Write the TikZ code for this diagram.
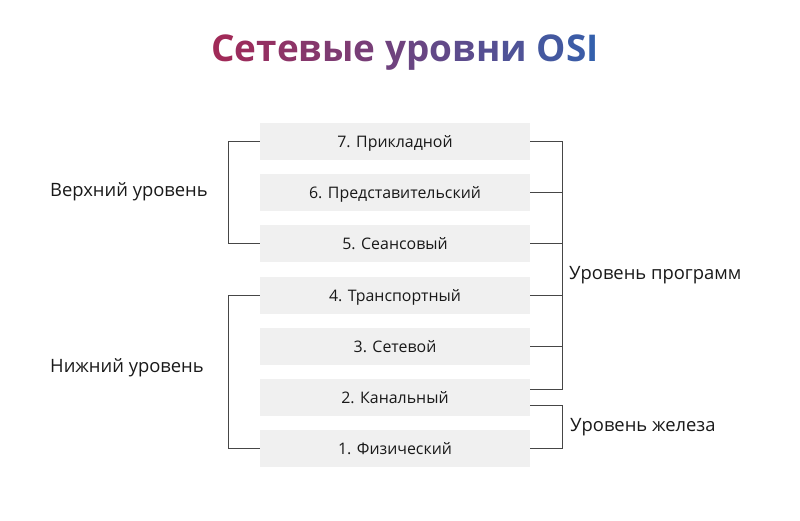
\documentclass[tikz,border=0pt]{standalone}
\usepackage{fontspec}
\setmainfont{Open Sans}
\definecolor{boxgray}{RGB}{240,240,240}
\definecolor{linegray}{RGB}{70,70,70}
\definecolor{textdark}{RGB}{25,25,25}
\definecolor{tA}{RGB}{160,42,88}
\definecolor{tB}{RGB}{52,96,172}
\newcommand{\gl}[2]{\textcolor{tB!#1!tA}{#2}}
\begin{document}
\begin{tikzpicture}[x=1pt,y=-1pt,
  layerbox/.style={fill=boxgray, draw=none, minimum width=270pt, minimum height=37pt, inner sep=0pt, text depth=0pt, text=textdark, font=\fontsize{15.9}{18}\selectfont},
  grp/.style={anchor=west, inner sep=0pt, text=textdark, font=\fontsize{18.4}{22}\selectfont},
  br/.style={draw=linegray, line width=1pt},
  ttl/.style={inner sep=0pt, font=\fontsize{36.9}{44}\selectfont\bfseries}]
\useasboundingbox (0,0) rectangle (800,520);
\node[ttl] (title) at (405,53) {\gl{0}{С}\gl{6}{е}\gl{12}{т}\gl{18}{е}\gl{24}{в}\gl{31}{ы}\gl{37}{е} \gl{45}{у}\gl{51}{р}\gl{57}{о}\gl{63}{в}\gl{69}{н}\gl{75}{и} \gl{85}{O}\gl{93}{S}\gl{100}{I}};
\node[layerbox] (L7) at (395,141) {7. Прикладной};
\node[layerbox] (L6) at (395,192) {6. Представительский};
\node[layerbox] (L5) at (395,243) {5. Сеансовый};
\node[layerbox] (L4) at (395,295) {4. Транспортный};
\node[layerbox] (L3) at (395,346) {3. Сетевой};
\node[layerbox] (L2) at (395,397) {2. Канальный};
\node[layerbox] (L1) at (395,448) {1. Физический};
\coordinate (ul) at (228,141);
\coordinate (ll) at (228,295);
\draw[br] (L7.west) -- (ul) |- (L5.west);
\draw[br] (L4.west) -- (ll) |- (L1.west);
\coordinate (pt) at (562,141);
\coordinate (pb) at (562,389);
\coordinate (ht) at (562,405);
\draw[br] (L7.east) -- (pt) -- (pb) -- (pb -| L2.east);
\draw[br] (L6.east) -- (L6.east -| pt);
\draw[br] (L5.east) -- (L5.east -| pt);
\draw[br] (L4.east) -- (L4.east -| pt);
\draw[br] (L3.east) -- (L3.east -| pt);
\draw[br] (ht -| L2.east) -- (ht) |- (L1.east);
\node[grp] (up) at (50,192) {Верхний уровень};
\node[grp] (low) at (50,368) {Нижний уровень};
\node[grp] (prog) at (569,275) {Уровень программ};
\node[grp] (hw) at (570,427) {Уровень железа};
\end{tikzpicture}
\end{document}
